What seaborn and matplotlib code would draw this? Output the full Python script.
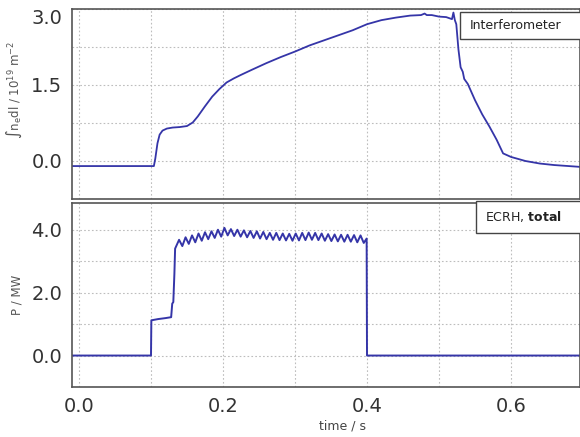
import matplotlib
matplotlib.use('Agg')
import matplotlib.pyplot as plt
import matplotlib.patches as patches
from matplotlib.ticker import MultipleLocator, FormatStrFormatter
import seaborn as sns

# line-integrated density (interferometer), 1e19 m^-2
dens_t = [-0.01, 0.104, 0.106, 0.109, 0.112, 0.116, 0.122, 0.13, 0.14, 0.15,
          0.158, 0.165, 0.175, 0.185, 0.195, 0.205, 0.215, 0.225, 0.24, 0.26,
          0.28, 0.30, 0.32, 0.34, 0.36, 0.38, 0.40, 0.42, 0.44, 0.46,
          0.475, 0.48, 0.483, 0.49, 0.50, 0.51, 0.518, 0.52, 0.522, 0.524,
          0.527, 0.530, 0.533, 0.535, 0.54, 0.55, 0.56, 0.57, 0.58, 0.589,
          0.60, 0.62, 0.64, 0.66, 0.68, 0.70]
dens_v = [-0.10, -0.10, 0.05, 0.35, 0.52, 0.60, 0.64, 0.66, 0.67, 0.69,
          0.76, 0.88, 1.08, 1.27, 1.42, 1.55, 1.63, 1.70, 1.80, 1.93,
          2.05, 2.16, 2.28, 2.38, 2.48, 2.58, 2.70, 2.78, 2.83, 2.87,
          2.88, 2.91, 2.88, 2.88, 2.85, 2.84, 2.80, 2.93, 2.78, 2.70,
          2.20, 1.85, 1.76, 1.62, 1.52, 1.20, 0.92, 0.68, 0.42, 0.15,
          0.08, 0.00, -0.05, -0.08, -0.10, -0.12]

# ECRH total power, MW: switch-on steps
ecrh_on_t = [-0.01, 0.1, 0.1005, 0.11, 0.12, 0.128, 0.1295, 0.131, 0.1325, 0.1335]
ecrh_on_p = [0.0, 0.0, 1.12, 1.16, 1.19, 1.22, 1.65, 1.70, 2.60, 3.40]
# modulation peaks / troughs during the flat top
peak_t = [0.139, 0.148, 0.157, 0.166, 0.175, 0.184, 0.193, 0.202, 0.211, 0.220,
          0.229, 0.238, 0.247, 0.256, 0.265, 0.274, 0.283, 0.292, 0.301, 0.310,
          0.319, 0.328, 0.337, 0.346, 0.355, 0.364, 0.373, 0.382, 0.391]
peak_p = [3.68, 3.76, 3.82, 3.88, 3.92, 3.95, 4.00, 4.06, 4.02, 4.00,
          3.98, 3.96, 3.95, 3.93, 3.90, 3.90, 3.88, 3.87, 3.88, 3.90,
          3.91, 3.90, 3.88, 3.86, 3.85, 3.84, 3.84, 3.83, 3.82]
trough_t = [0.1435, 0.1525, 0.1615, 0.1705, 0.1795, 0.1885, 0.1975, 0.2065, 0.2155, 0.2245,
            0.2335, 0.2425, 0.2515, 0.2605, 0.2695, 0.2785, 0.2875, 0.2965, 0.3055, 0.3145,
            0.3235, 0.3325, 0.3415, 0.3505, 0.3595, 0.3685, 0.3775, 0.3865, 0.3955]
trough_p = [3.48, 3.55, 3.60, 3.65, 3.70, 3.74, 3.78, 3.82, 3.80, 3.78,
            3.76, 3.74, 3.72, 3.70, 3.68, 3.67, 3.66, 3.65, 3.66, 3.67,
            3.68, 3.67, 3.65, 3.64, 3.63, 3.62, 3.62, 3.60, 3.58]
ecrh_off_t = [0.3995, 0.4, 0.7]
ecrh_off_p = [3.72, 0.0, 0.0]

ecrh_t = ecrh_on_t + [v for pair in zip(peak_t, trough_t) for v in pair] + ecrh_off_t
ecrh_p = ecrh_on_p + [v for pair in zip(peak_p, trough_p) for v in pair] + ecrh_off_p

line_col = '#3535a8'
spine_col = '#555555'

sns.set_style('white')
plt.rcParams['font.family'] = ['DejaVu Sans']
plt.rcParams['mathtext.default'] = 'regular'

fig = plt.figure(figsize=(5.8, 4.37), dpi=100)
W, H = 580, 437
ax1 = fig.add_axes([72 / W, 1 - 199 / H, 1 - 72 / W, 190 / H])
ax2 = fig.add_axes([72 / W, 1 - 387 / H, 1 - 72 / W, 184 / H])

sns.lineplot(x=dens_t, y=dens_v, ax=ax1, color=line_col, lw=1.3,
             estimator=None, sort=False)
sns.lineplot(x=ecrh_t, y=ecrh_p, ax=ax2, color=line_col, lw=1.4,
             estimator=None, sort=False)

for ax in (ax1, ax2):
    ax.set_xlim(-0.0097, 0.6958)
    ax.xaxis.set_major_locator(MultipleLocator(0.2))
    ax.xaxis.set_minor_locator(MultipleLocator(0.1))
    ax.grid(True, which='both', ls=(0, (1.5, 2.0)), color='#bdbdbd', lw=0.8)
    ax.tick_params(which='both', length=0, labelsize=14, labelcolor='#333333', pad=7)
    ax.yaxis.set_major_formatter(FormatStrFormatter('%.1f'))
    for s in ax.spines.values():
        s.set_color(spine_col)
        s.set_linewidth(1.2)

ax1.set_ylim(-0.75, 3.0)
ax1.yaxis.set_major_locator(MultipleLocator(1.5))
ax1.yaxis.set_minor_locator(MultipleLocator(0.75))
ax1.tick_params(labelbottom=False)
ax1.set_ylabel(r'$\int n_e$dl / 10$^{19}$ m$^{-2}$', fontsize=8.5, color='#555555')
ax1.yaxis.set_label_coords(-0.094, 0.574)

ax2.set_ylim(-1.0, 4.85)
ax2.yaxis.set_major_locator(MultipleLocator(2.0))
ax2.yaxis.set_minor_locator(MultipleLocator(1.0))
ax2.xaxis.set_major_formatter(FormatStrFormatter('%.1f'))
ax2.set_ylabel('P / MW', fontsize=8.5, color='#555555')
ax2.yaxis.set_label_coords(-0.096, 0.5)
ax2.set_xlabel('time / s', fontsize=9, color='#444444')
ax2.xaxis.set_label_coords(0.533, -0.178)

fig.canvas.draw()
for t in ax1.get_yticklabels():
    if t.get_text() == '3.0':
        t.set_va('top')

# label boxes
ax1.add_patch(patches.Rectangle((0.764, 0.842), 0.3, 0.142, transform=ax1.transAxes,
                                fc='white', ec='#444444', lw=1.0, clip_on=False, zorder=5))
ax1.text(0.783, 0.913, 'Interferometer', transform=ax1.transAxes, fontsize=9,
         color='#222222', va='center', ha='left', zorder=6)
ax2.add_patch(patches.Rectangle((0.795, 0.837), 0.3, 0.174, transform=ax2.transAxes,
                                fc='white', ec='#444444', lw=1.0, clip_on=False, zorder=5))
ax2.text(0.813, 0.924, r'ECRH, $\bf{total}$', transform=ax2.transAxes, fontsize=9,
         color='#222222', va='center', ha='left', zorder=6)

fig.savefig('out.png', dpi=100)
